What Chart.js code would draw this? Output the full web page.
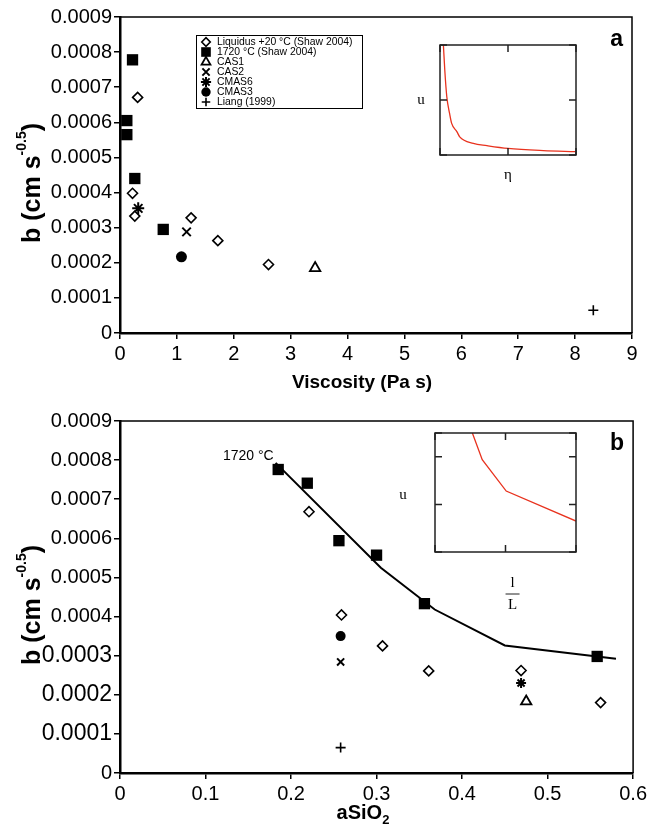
<!DOCTYPE html>
<html>
<head>
<meta charset="utf-8">
<script src="https://cdn.jsdelivr.net/npm/chart.js@4.4.0/dist/chart.umd.min.js"></script>
<style>
  body { margin: 0; background: #fff; width: 650px; height: 833px; position: relative; overflow: hidden; }
  canvas { position: absolute; }
</style>
</head>
<body>
<canvas id="chartA" width="650" height="400" style="left:0;top:0"></canvas>
<canvas id="insetA" width="190" height="160" style="left:400px;top:30px"></canvas>
<canvas id="chartB" width="650" height="433" style="left:0;top:400px"></canvas>
<canvas id="insetB" width="210" height="200" style="left:380px;top:420px"></canvas>
<script>
// tick labels
const bTickLabels = ['0', '0.0001', '0.0002', '0.0003', '0.0004', '0.0005', '0.0006', '0.0007', '0.0008', '0.0009'];
const viscTickLabels = ['0', '1', '2', '3', '4', '5', '6', '7', '8', '9'];
const siTickLabels = ['0', '0.1', '0.2', '0.3', '0.4', '0.5', '0.6'];

// panel a : b against viscosity (Pa s)
const liqVisc = [0.31, 0.22, 0.26, 1.25, 1.72, 2.61];
const liqB = [0.000671, 0.000398, 0.000333, 0.000328, 0.000263, 0.000195];
const shawVisc = [0.22, 0.12, 0.12, 0.26, 0.76];
const shawB = [0.000778, 0.000605, 0.000565, 0.00044, 0.000295];
const cas1Visc = [3.43], cas1B = [0.000185];
const cas2Visc = [1.17], cas2B = [0.000288];
const cmas6Visc = [0.32], cmas6B = [0.000355];
const cmas3Visc = [1.08], cmas3B = [0.000217];
const liangVisc = [8.32], liangB = [0.000065];

// panel b : b against aSiO2
const liqSi = [0.221, 0.259, 0.307, 0.361, 0.469, 0.562];
const liqBb = [0.000668, 0.000404, 0.000325, 0.000261, 0.000262, 0.00018];
const shawSi = [0.185, 0.219, 0.256, 0.300, 0.356, 0.558];
const shawBb = [0.000776, 0.000741, 0.000594, 0.000557, 0.000433, 0.000298];
const fitSi = [0.182, 0.305, 0.368, 0.450, 0.580];
const fitB = [0.000793, 0.000525, 0.000418, 0.000326, 0.000292];
const cas1Si = [0.475], cas1Bb = [0.000183];
const cas2Si = [0.258], cas2Bb = [0.000284];
const cmas6Si = [0.469], cmas6Bb = [0.00023];
const cmas3Si = [0.258], cmas3Bb = [0.00035];
const liangSi = [0.258], liangBb = [0.000065];

// insets (sketch curves)
const insetAEta = [0.05, 0.07, 0.10, 0.14, 0.17, 0.25, 0.29, 0.49, 0.69, 1.0, 1.52, 1.99];
const insetAU = [2.0, 1.55, 1.06, 0.76, 0.58, 0.42, 0.33, 0.21, 0.17, 0.12, 0.08, 0.06];
const insetBX = [0.53, 0.67, 1.01, 2.0];
const insetBU = [2.5, 1.94, 1.28, 0.65];

const SANS = '"Liberation Sans", Arial, sans-serif';
const SERIF = '"Liberation Serif", "Times New Roman", serif';
Chart.defaults.font.family = SANS;
Chart.defaults.color = '#000';

const pts = (xs, ys) => xs.map((x, i) => ({ x: x, y: ys[i] }));

// symbol styles shared by both panels
const sym = {
  liq:   { pointStyle: 'rectRot',  pointRadius: 5,   pointBackgroundColor: '#fff', pointBorderColor: '#000', pointBorderWidth: 1.6 },
  shaw:  { pointStyle: 'rect',     pointRadius: 8,   pointBackgroundColor: '#000', pointBorderColor: '#000', pointBorderWidth: 0 },
  cas1:  { pointStyle: 'triangle', pointRadius: 6,   pointBackgroundColor: '#fff', pointBorderColor: '#000', pointBorderWidth: 1.8 },
  cas2:  { pointStyle: 'crossRot', pointRadius: 6,   pointBackgroundColor: '#000', pointBorderColor: '#000', pointBorderWidth: 2 },
  cmas6: { pointStyle: 'star',     pointRadius: 6,   pointBackgroundColor: '#000', pointBorderColor: '#000', pointBorderWidth: 2 },
  cmas3: { pointStyle: 'circle',   pointRadius: 5.5, pointBackgroundColor: '#000', pointBorderColor: '#000', pointBorderWidth: 0 },
  liang: { pointStyle: 'cross',    pointRadius: 5,   pointBackgroundColor: '#000', pointBorderColor: '#000', pointBorderWidth: 1.6 }
};

// draw text made of pieces (for super/subscripts)
function drawRich(ctx, parts, cx, cy, rotate) {
  ctx.save();
  ctx.translate(cx, cy);
  if (rotate) ctx.rotate(-Math.PI / 2);
  ctx.textBaseline = 'alphabetic';
  ctx.textAlign = 'left';
  let total = 0;
  parts.forEach(p => { ctx.font = p.font; total += ctx.measureText(p.text).width; });
  let x = -total / 2;
  parts.forEach(p => {
    ctx.font = p.font;
    ctx.fillText(p.text, x, p.dy);
    x += ctx.measureText(p.text).width;
  });
  ctx.restore();
}

const frame = {
  id: 'frame',
  afterDraw(chart) {
    const { ctx, chartArea: a } = chart;
    ctx.save();
    ctx.strokeStyle = '#000';
    ctx.lineWidth = 1.5;
    ctx.beginPath();
    ctx.moveTo(a.left, a.top); ctx.lineTo(a.right, a.top); ctx.lineTo(a.right, a.bottom);
    ctx.stroke();
    ctx.restore();
  }
};

const titles = {
  id: 'titles',
  afterDraw(chart, args, o) {
    const { ctx, chartArea: a } = chart;
    ctx.fillStyle = '#000';
    drawRich(ctx, [
      { text: 'b (cm s', font: 'bold 25px ' + SANS, dy: 9 },
      { text: '-0.5', font: 'bold 14px ' + SANS, dy: -5 },
      { text: ')', font: 'bold 25px ' + SANS, dy: 9 }
    ], o.yTitleX, (a.top + a.bottom) / 2 + o.yTitleShift, true);
    drawRich(ctx, o.xTitle, o.xTitleX, o.xTitleY, false);
    ctx.save();
    ctx.font = 'bold 23px ' + SANS;
    ctx.textAlign = 'right';
    ctx.textBaseline = 'middle';
    ctx.fillText(o.letter, a.right - 9, a.top + 23);
    ctx.restore();
  }
};

const legendBox = {
  id: 'legendBox',
  afterDraw(chart, args, o) {
    if (!o.show) return;
    const ctx = chart.ctx;
    ctx.save();
    ctx.fillStyle = '#fff';
    ctx.fillRect(o.x, o.y, o.w, o.h);
    ctx.strokeStyle = '#000';
    ctx.lineWidth = 1;
    ctx.strokeRect(o.x + 0.5, o.y + 0.5, o.w, o.h);
    chart.data.datasets.forEach((ds, i) => {
      const y = o.y + 7 + i * o.step;
      ctx.fillStyle = ds.pointBackgroundColor;
      ctx.strokeStyle = ds.pointBorderColor;
      ctx.lineWidth = ds.pointBorderWidth;
      Chart.helpers.drawPoint(ctx, {
        pointStyle: ds.pointStyle, radius: ds.pointRadius * 0.85, borderWidth: ds.pointBorderWidth, rotation: 0
      }, o.x + 10, y);
      ctx.fillStyle = '#000';
      ctx.font = '10.4px ' + SANS;
      ctx.textBaseline = 'middle';
      ctx.textAlign = 'left';
      ctx.fillText(ds.label, o.x + 21, y);
    });
    ctx.restore();
  }
};

const fitLabel = {
  id: 'fitLabel',
  afterDatasetsDraw(chart) {
    const ds = chart.data.datasets.find(d => d.showLine);
    if (!ds) return;
    const { ctx, scales } = chart;
    const px = scales.x.getPixelForValue(ds.data[0].x);
    const py = scales.y.getPixelForValue(ds.data[0].y);
    ctx.save();
    ctx.fillStyle = '#000';
    ctx.font = '14px ' + SANS;
    ctx.textAlign = 'right';
    ctx.textBaseline = 'middle';
    ctx.fillText('1720 \u00B0C', px - 2, py - 7);
    ctx.restore();
  }
};

function mainScales(xMax, xStep, xLabels, yFont) {
  return {
    x: {
      type: 'linear', min: 0, max: xMax,
      afterFit: s => { s.height = 60; },
      ticks: { stepSize: xStep, autoSkip: false, maxRotation: 0, padding: 3, font: { size: 20 }, color: '#000',
               callback: (v, i) => xLabels[i] },
      grid: { drawOnChartArea: false, drawTicks: true, tickLength: 6, color: '#000', lineWidth: 1.5 },
      border: { display: true, color: '#000', width: 2.5 }
    },
    y: {
      type: 'linear', min: 0, max: 0.0009,
      afterFit: s => { s.width = 120; },
      ticks: { stepSize: 0.0001, autoSkip: false, padding: 2, font: yFont, color: '#000',
               callback: (v, i) => bTickLabels[i] },
      grid: { drawOnChartArea: false, drawTicks: true, tickLength: 6, color: '#000', lineWidth: 1.5 },
      border: { display: true, color: '#000', width: 2.5 }
    }
  };
}

// ---------- panel a ----------
new Chart(document.getElementById('chartA'), {
  type: 'scatter',
  data: {
    datasets: [
      Object.assign({ label: 'Liquidus +20 \u00B0C (Shaw 2004)', data: pts(liqVisc, liqB) }, sym.liq),
      Object.assign({ label: '1720 \u00B0C (Shaw 2004)', data: pts(shawVisc, shawB) }, sym.shaw),
      Object.assign({ label: 'CAS1', data: pts(cas1Visc, cas1B) }, sym.cas1),
      Object.assign({ label: 'CAS2', data: pts(cas2Visc, cas2B) }, sym.cas2),
      Object.assign({ label: 'CMAS6', data: pts(cmas6Visc, cmas6B) }, sym.cmas6),
      Object.assign({ label: 'CMAS3', data: pts(cmas3Visc, cmas3B) }, sym.cmas3),
      Object.assign({ label: 'Liang (1999)', data: pts(liangVisc, liangB) }, sym.liang)
    ]
  },
  options: {
    responsive: false,
    animation: false,
    layout: { padding: { top: 17, right: 18, left: 0, bottom: 7 } },
    scales: mainScales(9, 1, viscTickLabels, { size: 20 }),
    plugins: {
      legend: { display: false },
      tooltip: { enabled: false },
      legendBox: { show: true, x: 196, y: 35, w: 166, h: 73, step: 10 },
      titles: {
        letter: 'a', yTitleX: 31, yTitleShift: 8,
        xTitle: [{ text: 'Viscosity (Pa s)', font: 'bold 19px ' + SANS, dy: 0 }],
        xTitleX: 362, xTitleY: 388
      }
    }
  },
  plugins: [frame, titles, legendBox]
});

// ---------- panel b ----------
new Chart(document.getElementById('chartB'), {
  type: 'scatter',
  data: {
    datasets: [
      Object.assign({ label: 'Liquidus +20 \u00B0C (Shaw 2004)', data: pts(liqSi, liqBb) }, sym.liq),
      Object.assign({ label: '1720 \u00B0C (Shaw 2004)', data: pts(shawSi, shawBb) }, sym.shaw),
      Object.assign({ label: 'CAS1', data: pts(cas1Si, cas1Bb) }, sym.cas1),
      Object.assign({ label: 'CAS2', data: pts(cas2Si, cas2Bb) }, sym.cas2, { pointRadius: 5 }),
      Object.assign({ label: 'CMAS6', data: pts(cmas6Si, cmas6Bb) }, sym.cmas6, { pointRadius: 5 }),
      Object.assign({ label: 'CMAS3', data: pts(cmas3Si, cmas3Bb) }, sym.cmas3, { pointRadius: 5 }),
      Object.assign({ label: 'Liang (1999)', data: pts(liangSi, liangBb) }, sym.liang),
      { label: '1720 \u00B0C', data: pts(fitSi, fitB), showLine: true, borderColor: '#000', borderWidth: 2,
        pointRadius: 0, tension: 0, fill: false }
    ]
  },
  options: {
    responsive: false,
    animation: false,
    layout: { padding: { top: 21, right: 16, left: 0, bottom: 0 } },
    scales: mainScales(0.6, 0.1, siTickLabels,
      c => ({ size: (c.tick && c.tick.value > 0.00005 && c.tick.value < 0.00035) ? 23 : 20 })),
    plugins: {
      legend: { display: false },
      tooltip: { enabled: false },
      legendBox: { show: false },
      titles: {
        letter: 'b', yTitleX: 31, yTitleShift: 8,
        xTitle: [
          { text: 'aSiO', font: 'bold 20px ' + SANS, dy: 0 },
          { text: '2', font: 'bold 13px ' + SANS, dy: 5 }
        ],
        xTitleX: 363, xTitleY: 419
      }
    }
  },
  plugins: [frame, titles, fitLabel]
});

// ---------- insets ----------
const insetTicks = {
  id: 'insetTicks',
  afterDraw(chart, args, o) {
    const { ctx, chartArea: a, scales } = chart;
    ctx.save();
    ctx.strokeStyle = '#222';
    ctx.lineWidth = 1.5;
    ctx.strokeRect(a.left, a.top, a.right - a.left, a.bottom - a.top);
    ctx.beginPath();
    scales.x.ticks.forEach(t => {
      const x = scales.x.getPixelForValue(t.value);
      ctx.moveTo(x, a.bottom); ctx.lineTo(x, a.bottom - 7);
      ctx.moveTo(x, a.top); ctx.lineTo(x, a.top + 7);
    });
    scales.y.ticks.forEach(t => {
      const y = scales.y.getPixelForValue(t.value);
      ctx.moveTo(a.left, y); ctx.lineTo(a.left + 7, y);
      ctx.moveTo(a.right, y); ctx.lineTo(a.right - 7, y);
    });
    ctx.stroke();
    ctx.fillStyle = '#000';
    ctx.font = '15px ' + SERIF;
    ctx.textAlign = 'center';
    ctx.textBaseline = 'middle';
    ctx.fillText('u', a.left + o.uDx, scales.y.getPixelForValue(o.uAt));
    if (o.fraction) {
      const fx = scales.x.getPixelForValue(o.fracAt);
      const fy = a.bottom + o.fracDy;
      ctx.fillText('l', fx, fy - 11);
      ctx.fillText('L', fx, fy + 11);
      ctx.lineWidth = 1;
      ctx.beginPath(); ctx.moveTo(fx - 7, fy); ctx.lineTo(fx + 7, fy); ctx.stroke();
    } else {
      ctx.fillText('\u03B7', scales.x.getPixelForValue(o.fracAt), a.bottom + o.fracDy);
    }
    ctx.restore();
  }
};

function insetScales(yMax) {
  const hidden = { drawOnChartArea: false, drawTicks: false };
  return {
    x: { type: 'linear', min: 0, max: 2, ticks: { stepSize: 1, display: false }, grid: hidden,
         border: { display: false }, afterFit: s => { s.height = 0; } },
    y: { type: 'linear', min: 0, max: yMax, ticks: { stepSize: 1, display: false }, grid: hidden,
         border: { display: false }, afterFit: s => { s.width = 0; } }
  };
}

new Chart(document.getElementById('insetA'), {
  type: 'scatter',
  data: { datasets: [{ data: pts(insetAEta, insetAU), showLine: true, borderColor: '#e8321e', borderWidth: 1.3,
    pointRadius: 0, cubicInterpolationMode: 'monotone' }] },
  options: {
    responsive: false, animation: false,
    layout: { padding: { left: 40, top: 15, right: 14, bottom: 35 } },
    scales: insetScales(2),
    plugins: { legend: { display: false }, tooltip: { enabled: false },
      insetTicks: { uDx: -19, uAt: 1, fraction: false, fracAt: 1, fracDy: 20 } }
  },
  plugins: [insetTicks]
});

new Chart(document.getElementById('insetB'), {
  type: 'scatter',
  data: { datasets: [{ data: pts(insetBX, insetBU), showLine: true, borderColor: '#e8321e', borderWidth: 1.3,
    pointRadius: 0, tension: 0 }] },
  options: {
    responsive: false, animation: false,
    layout: { padding: { left: 55, top: 13, right: 14, bottom: 68 } },
    scales: insetScales(2.5),
    plugins: { legend: { display: false }, tooltip: { enabled: false },
      insetTicks: { uDx: -32, uAt: 1.2, fraction: true, fracAt: 1.1, fracDy: 42 } }
  },
  plugins: [insetTicks]
});
</script>
</body>
</html>
